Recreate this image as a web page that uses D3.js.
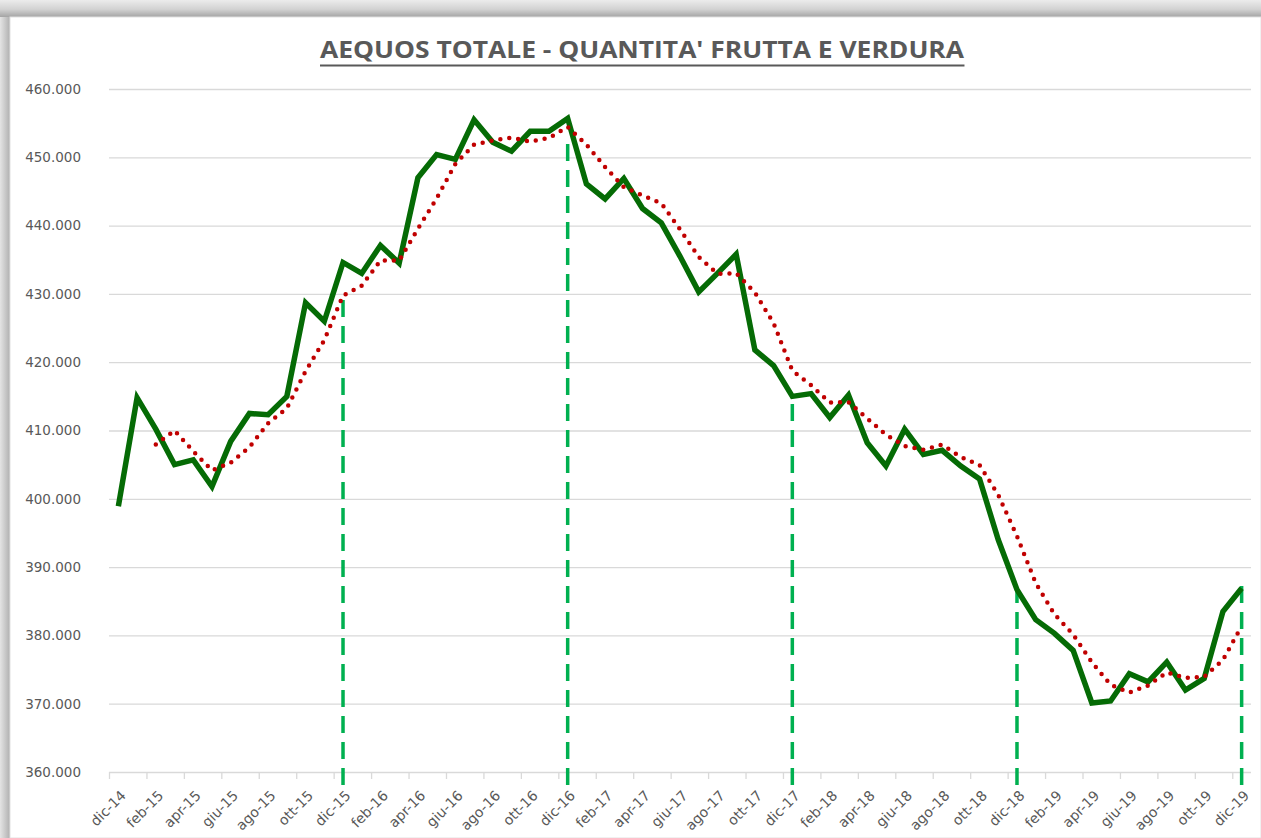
<!DOCTYPE html>
<html lang="it">
<head>
<meta charset="UTF-8">
<title>AEQUOS TOTALE - QUANTITA' FRUTTA E VERDURA</title>
<script src="https://cdn.jsdelivr.net/npm/d3@7"></script>
<style>
    body { margin: 0; background: #fff; }
    text { font-family: 'DejaVu Sans', sans-serif; }
</style>
</head>
<body>
<svg id="chart" width="1261" height="838"></svg>
<script>
    // Data
    const monthNames = ["gen", "feb", "mar", "apr", "mag", "giu", "lug", "ago", "set", "ott", "nov", "dic"];
    const startYear = 2014, startMonth = 11; // dic-14
    const quantita = [
        398900, 414800, 410200, 405000, 405700, 401800, 408400, 412500, 412300, 415000, 428700, 426000,
        434600, 433000, 437100, 434500, 447000, 450400, 449700, 455500, 452200, 450900, 453800, 453800,
        455700, 446100, 443900, 446900, 442500, 440400, 435500, 430300, 433000, 435800, 421800, 419500,
        415000, 415400, 411900, 415200, 408200, 404800, 410200, 406500, 407100, 404800, 402900, 394000,
        386700, 382300, 380300, 377800, 370100, 370400, 374400, 373200, 376100, 372000, 373700, 383500,
        386900
    ];
    const maPeriod = 3; // moving average trendline period
    const yTicks = [360000, 370000, 380000, 390000, 400000, 410000, 420000, 430000, 440000, 450000, 460000];
    // year-end markers: month index and the height the dashed line reaches
    const markerIdx = [12, 24, 36, 48, 60];
    const markerTop = [430300, 453000, 415000, 386900, 387400];

    const width = 1261, height = 838;
    const plot = { left: 109, right: 1251, top: 89, bottom: 772 };

    const months = quantita.map((d, i) => {
        const m = (startMonth + i) % 12;
        const y = startYear + Math.floor((startMonth + i) / 12);
        return monthNames[m] + "-" + String(y).slice(2);
    });

    const svg = d3.select("#chart");

    // window frame (grey shadow at top and left)
    const defs = svg.append("defs");
    const gTop = defs.append("linearGradient").attr("id", "gTop")
        .attr("x1", 0).attr("y1", 0).attr("x2", 0).attr("y2", 1);
    gTop.append("stop").attr("offset", "0%").attr("stop-color", "#ececec");
    gTop.append("stop").attr("offset", "55%").attr("stop-color", "#d2d2d2");
    gTop.append("stop").attr("offset", "100%").attr("stop-color", "#a4a4a4");
    const gLeft = defs.append("linearGradient").attr("id", "gLeft")
        .attr("x1", 0).attr("y1", 0).attr("x2", 1).attr("y2", 0);
    gLeft.append("stop").attr("offset", "0%").attr("stop-color", "#e4e4e4");
    gLeft.append("stop").attr("offset", "100%").attr("stop-color", "#b0b0b0");

    svg.append("rect").attr("width", width).attr("height", height).attr("fill", "#fff");
    svg.append("rect").attr("x", 0).attr("y", 0).attr("width", 10).attr("height", height).attr("fill", "url(#gLeft)");
    svg.append("rect").attr("x", 0).attr("y", 0).attr("width", width).attr("height", 17).attr("fill", "url(#gTop)");
    svg.append("rect").attr("x", 10).attr("y", 17).attr("width", width - 10).attr("height", height - 17)
        .attr("fill", "#fff").attr("stroke", "#e2e2e2").attr("stroke-width", 1);

    // Scales
    const x = d3.scaleBand().domain(d3.range(quantita.length)).range([plot.left, plot.right]).padding(0);
    const cx = i => x(i) + x.bandwidth() / 2;
    const y = d3.scaleLinear().domain([360000, 460000]).range([plot.bottom, plot.top]);
    const it = d3.formatLocale({ decimal: ",", thousands: ".", grouping: [3], currency: ["€", ""] });
    const fmt = it.format(",.0f");

    // Gridlines + y labels
    svg.append("g").selectAll("line").data(yTicks).join("line")
        .attr("x1", plot.left).attr("x2", plot.right)
        .attr("y1", d => y(d) + 0.5).attr("y2", d => y(d) + 0.5)
        .attr("stroke", "#d9d9d9").attr("stroke-width", 1.3);
    svg.append("g").selectAll("text").data(yTicks).join("text")
        .attr("x", 81).attr("y", d => y(d)).attr("dy", "0.36em")
        .attr("text-anchor", "end").attr("fill", "#595959")
        .style("font-size", "13.5px").text(fmt);

    // x ticks every 2 months at category boundaries
    const tickIdx = d3.range(0, quantita.length, 2);
    svg.append("g").selectAll("line").data(tickIdx).join("line")
        .attr("x1", d => x(d) + 0.5).attr("x2", d => x(d) + 0.5)
        .attr("y1", plot.bottom).attr("y2", plot.bottom + 7)
        .attr("stroke", "#d9d9d9").attr("stroke-width", 1.3);
    svg.append("g").selectAll("text").data(tickIdx).join("text")
        .attr("transform", d => `translate(${cx(d) + 5},${plot.bottom + 21}) rotate(-45)`)
        .attr("text-anchor", "end").attr("dy", "0.35em").attr("fill", "#595959")
        .style("font-size", "14px").text(d => months[d]);

    // Year-end dashed markers
    svg.append("g").selectAll("line").data(markerIdx).join("line")
        .attr("x1", d => cx(d)).attr("x2", d => cx(d))
        .attr("y1", plot.bottom + 13).attr("y2", (d, i) => y(markerTop[i]))
        .attr("stroke", "#00b050").attr("stroke-width", 3.5)
        .attr("stroke-dasharray", "17,9");

    // Series line
    const line = d3.line().x((d, i) => cx(i)).y(d => y(d));
    svg.append("path").datum(quantita)
        .attr("d", line).attr("fill", "none")
        .attr("stroke", "#056b05").attr("stroke-width", 5.5)
        .attr("stroke-linejoin", "miter");

    // Moving-average trendline (Excel, period 3)
    const ma = quantita.map((d, i) => i < maPeriod - 1 ? null : d3.mean(quantita.slice(i - maPeriod + 1, i + 1)));
    const maLine = d3.line().defined(d => d !== null).x((d, i) => cx(i)).y(d => y(d));
    svg.append("path").datum(ma)
        .attr("d", maLine).attr("fill", "none")
        .attr("stroke", "#c00000").attr("stroke-width", 4.5)
        .attr("stroke-linecap", "round").attr("stroke-dasharray", "0,9");

    // Title
    const title = svg.append("text")
        .attr("x", 642).attr("y", 58).attr("text-anchor", "middle")
        .attr("fill", "#595959")
        .style("font-family", "'Open Sans', sans-serif").style("font-weight", "bold").style("font-size", "24px")
        .attr("textLength", 644).attr("lengthAdjust", "spacingAndGlyphs")
        .text("AEQUOS TOTALE - QUANTITA' FRUTTA E VERDURA");
    const tb = title.node().getBBox();
    svg.append("line")
        .attr("x1", tb.x).attr("x2", tb.x + tb.width)
        .attr("y1", 65.5).attr("y2", 65.5)
        .attr("stroke", "#595959").attr("stroke-width", 2);
</script>
</body>
</html>
